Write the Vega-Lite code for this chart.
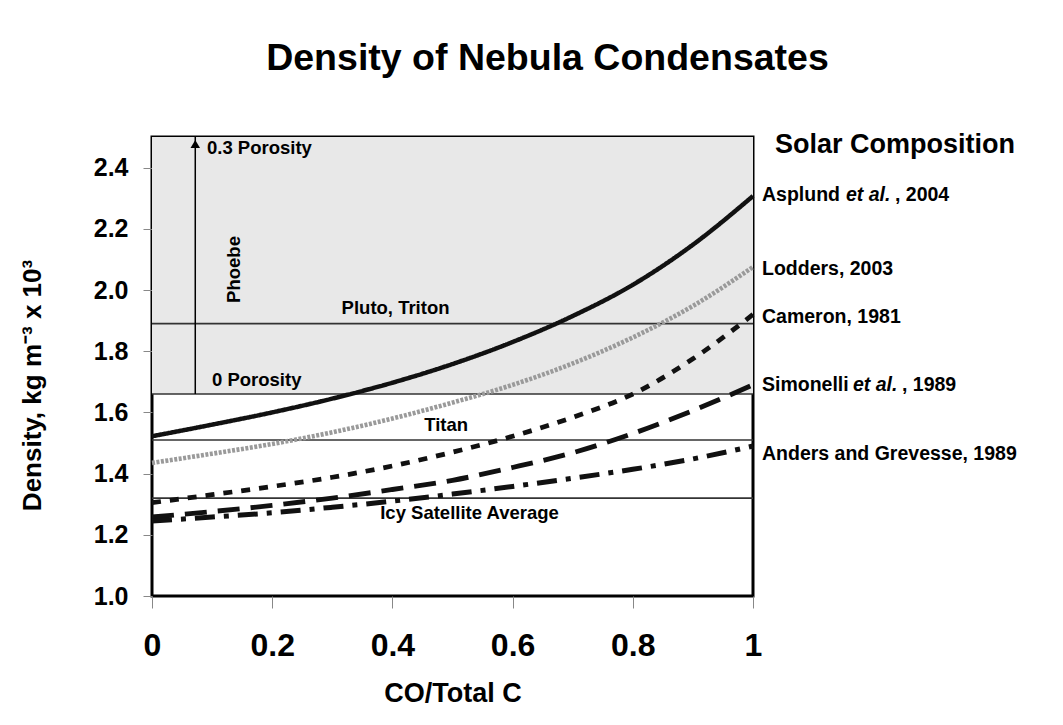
{
  "$schema": "https://vega.github.io/schema/vega-lite/v6.json",
  "width": 601,
  "height": 459,
  "autosize": {"type": "none"},
  "padding": {"left": 152, "top": 137, "right": 310, "bottom": 129},
  "background": "white",
  "config": {
    "font": "Liberation Sans",
    "view": {"stroke": "black", "strokeWidth": 3}
  },
  "title": {
    "text": "Density of Nebula Condensates",
    "fontSize": 37.5,
    "fontWeight": "bold",
    "font": "Liberation Sans",
    "color": "black",
    "anchor": "middle",
    "frame": "group",
    "dx": 95,
    "offset": 23,
    "baseline": "alphabetic"
  },
  "datasets": {
    "shade": [{"lo": 1.66, "hi": 2.5}],
    "refs": [
      {"name": "Pluto, Triton", "v": 1.89},
      {"name": "0 Porosity", "v": 1.66},
      {"name": "Titan", "v": 1.51},
      {"name": "Icy Satellite Average", "v": 1.32}
    ],
    "phoebe": [{"x": 0.072, "lo": 1.66, "hi": 2.5, "label": "Phoebe", "ly": 2.067, "lx": 0.147}],
    "annot": [
      {"text": "0.3 Porosity", "x": 0.0915, "y": 2.443},
      {"text": "0 Porosity", "x": 0.0998, "y": 1.687},
      {"text": "Pluto, Triton", "x": 0.3155, "y": 1.923},
      {"text": "Titan", "x": 0.4529, "y": 1.539},
      {"text": "Icy Satellite Average", "x": 0.3797, "y": 1.252}
    ],
    "curves": [
      {"series": "Asplund", "co": 0.0, "d": 1.522},
      {"series": "Asplund", "co": 0.1, "d": 1.56},
      {"series": "Asplund", "co": 0.2, "d": 1.60},
      {"series": "Asplund", "co": 0.3, "d": 1.645},
      {"series": "Asplund", "co": 0.4, "d": 1.697},
      {"series": "Asplund", "co": 0.5, "d": 1.758},
      {"series": "Asplund", "co": 0.6, "d": 1.83},
      {"series": "Asplund", "co": 0.7, "d": 1.915},
      {"series": "Asplund", "co": 0.8, "d": 2.017},
      {"series": "Asplund", "co": 0.9, "d": 2.148},
      {"series": "Asplund", "co": 1.0, "d": 2.307},
      {"series": "Lodders", "co": 0.0, "d": 1.435},
      {"series": "Lodders", "co": 0.1, "d": 1.465},
      {"series": "Lodders", "co": 0.2, "d": 1.497},
      {"series": "Lodders", "co": 0.3, "d": 1.535},
      {"series": "Lodders", "co": 0.4, "d": 1.58},
      {"series": "Lodders", "co": 0.5, "d": 1.632},
      {"series": "Lodders", "co": 0.6, "d": 1.69},
      {"series": "Lodders", "co": 0.7, "d": 1.76},
      {"series": "Lodders", "co": 0.8, "d": 1.845},
      {"series": "Lodders", "co": 0.9, "d": 1.948},
      {"series": "Lodders", "co": 1.0, "d": 2.075},
      {"series": "Cameron", "co": 0.0, "d": 1.305},
      {"series": "Cameron", "co": 0.1, "d": 1.331},
      {"series": "Cameron", "co": 0.2, "d": 1.358},
      {"series": "Cameron", "co": 0.3, "d": 1.388},
      {"series": "Cameron", "co": 0.4, "d": 1.425},
      {"series": "Cameron", "co": 0.5, "d": 1.47},
      {"series": "Cameron", "co": 0.6, "d": 1.522},
      {"series": "Cameron", "co": 0.7, "d": 1.584},
      {"series": "Cameron", "co": 0.8, "d": 1.66},
      {"series": "Cameron", "co": 0.9, "d": 1.775},
      {"series": "Cameron", "co": 1.0, "d": 1.92},
      {"series": "Simonelli", "co": 0.0, "d": 1.258},
      {"series": "Simonelli", "co": 0.1, "d": 1.276},
      {"series": "Simonelli", "co": 0.2, "d": 1.296},
      {"series": "Simonelli", "co": 0.3, "d": 1.32},
      {"series": "Simonelli", "co": 0.4, "d": 1.348},
      {"series": "Simonelli", "co": 0.5, "d": 1.378},
      {"series": "Simonelli", "co": 0.6, "d": 1.42},
      {"series": "Simonelli", "co": 0.7, "d": 1.468},
      {"series": "Simonelli", "co": 0.8, "d": 1.531},
      {"series": "Simonelli", "co": 0.9, "d": 1.606},
      {"series": "Simonelli", "co": 1.0, "d": 1.69},
      {"series": "Anders", "co": 0.0, "d": 1.245},
      {"series": "Anders", "co": 0.1, "d": 1.258},
      {"series": "Anders", "co": 0.2, "d": 1.272},
      {"series": "Anders", "co": 0.3, "d": 1.29},
      {"series": "Anders", "co": 0.4, "d": 1.31},
      {"series": "Anders", "co": 0.5, "d": 1.333},
      {"series": "Anders", "co": 0.6, "d": 1.358},
      {"series": "Anders", "co": 0.7, "d": 1.385},
      {"series": "Anders", "co": 0.8, "d": 1.414},
      {"series": "Anders", "co": 0.9, "d": 1.448},
      {"series": "Anders", "co": 1.0, "d": 1.49}
    ],
    "rightlabels": [
      {"main": "Asplund", "it": "et al.", "tail": ", 2004", "y": 2.292},
      {"main": "Lodders, 2003", "it": "", "tail": "", "y": 2.049},
      {"main": "Cameron, 1981", "it": "", "tail": "", "y": 1.893},
      {"main": "Simonelli", "it": "et al.", "tail": ", 1989", "y": 1.67},
      {"main": "Anders and Grevesse, 1989", "it": "", "tail": "", "y": 1.446}
    ],
    "header": [{"text": "Solar Composition", "y": 2.449}]
  },
  "layer": [
    {
      "data": {"name": "shade"},
      "mark": {"type": "rect", "color": "#e8e8e8"},
      "encoding": {
        "x": {"datum": 0, "type": "quantitative", "title": "CO/Total C",
          "scale": {"domain": [0, 1], "nice": false, "zero": false},
          "axis": {
            "values": [0, 0.2, 0.4, 0.6, 0.8, 1],
            "labelExpr": "datum.value == 0 ? '0' : datum.value == 1 ? '1' : format(datum.value, '.1f')",
            "labelFontSize": 32, "labelFontWeight": "bold", "labelColor": "black",
            "labelFlush": false, "labelOverlap": false,
            "tickColor": "#888", "tickSize": 12, "labelPadding": 47, "labelBaseline": "alphabetic",
            "domain": false, "grid": false,
            "title": "CO/Total C", "titleFontSize": 27, "titleFontWeight": "bold", "titleColor": "black",
            "titleY": 105, "titleBaseline": "alphabetic"
          }
        },
        "x2": {"datum": 1},
        "y": {"field": "lo", "type": "quantitative", "title": "Density, kg m⁻³ x 10³",
          "scale": {"domain": [1, 2.5], "nice": false, "zero": false},
          "axis": {
            "values": [1, 1.2, 1.4, 1.6, 1.8, 2.0, 2.2, 2.4],
            "format": ".1f",
            "labelFontSize": 25, "labelFontWeight": "bold", "labelColor": "black",
            "labelFlush": false, "labelOverlap": false,
            "tickColor": "#888", "tickSize": 9, "labelPadding": 15,
            "domain": false, "grid": false,
            "title": "Density, kg m⁻³ x 10³", "titleFontSize": 26, "titleFontWeight": "bold", "titleColor": "black",
            "titleAngle": 270, "titleX": -112, "titleY": 248, "titleAlign": "center", "titleBaseline": "alphabetic"
          }
        },
        "y2": {"field": "hi"}
      }
    },
    {
      "data": {"name": "refs"},
      "mark": {"type": "rule", "color": "#333", "strokeWidth": 1.6},
      "encoding": {
        "x": {"datum": 0, "type": "quantitative", "title": "CO/Total C"},
        "x2": {"datum": 1},
        "y": {"field": "v", "type": "quantitative", "title": "Density, kg m⁻³ x 10³"}
      }
    },
    {
      "data": {"name": "phoebe"},
      "mark": {"type": "rule", "color": "black", "strokeWidth": 1.5},
      "encoding": {
        "x": {"field": "x", "type": "quantitative", "title": "CO/Total C"},
        "y": {"field": "lo", "type": "quantitative", "title": "Density, kg m⁻³ x 10³"},
        "y2": {"field": "hi"}
      }
    },
    {
      "data": {"name": "phoebe"},
      "mark": {"type": "point", "shape": "triangle-up", "filled": true, "color": "black", "size": 90, "opacity": 1, "yOffset": 7},
      "encoding": {
        "x": {"field": "x", "type": "quantitative", "title": "CO/Total C"},
        "y": {"field": "hi", "type": "quantitative", "title": "Density, kg m⁻³ x 10³"}
      }
    },
    {
      "data": {"name": "phoebe"},
      "mark": {"type": "text", "angle": 270, "align": "center", "baseline": "alphabetic", "fontSize": 18.5, "fontWeight": "bold", "color": "black"},
      "encoding": {
        "x": {"field": "lx", "type": "quantitative", "title": "CO/Total C"},
        "y": {"field": "ly", "type": "quantitative", "title": "Density, kg m⁻³ x 10³"},
        "text": {"field": "label"}
      }
    },
    {
      "data": {"name": "curves"},
      "mark": {"type": "line", "interpolate": "monotone"},
      "encoding": {
        "x": {"field": "co", "type": "quantitative", "title": "CO/Total C"},
        "y": {"field": "d", "type": "quantitative", "title": "Density, kg m⁻³ x 10³"},
        "color": {"field": "series", "type": "nominal", "legend": null,
          "scale": {"domain": ["Asplund", "Lodders", "Cameron", "Simonelli", "Anders"], "range": ["#111", "#9a9a9a", "#111", "#111", "#111"]}},
        "strokeDash": {"field": "series", "type": "nominal", "legend": null,
          "scale": {"domain": ["Asplund", "Lodders", "Cameron", "Simonelli", "Anders"], "range": [[1, 0], [3, 1.5], [9, 9], [22, 11], [20, 9, 5, 9]]}},
        "strokeWidth": {"field": "series", "type": "ordinal", "legend": null,
          "scale": {"domain": ["Asplund", "Lodders", "Cameron", "Simonelli", "Anders"], "range": [4.5, 5, 3.5, 3, 3]}}
      }
    },
    {
      "data": {"name": "annot"},
      "mark": {"type": "text", "align": "left", "baseline": "alphabetic", "fontSize": 18.5, "fontWeight": "bold", "color": "black"},
      "encoding": {
        "x": {"field": "x", "type": "quantitative", "title": "CO/Total C"},
        "y": {"field": "y", "type": "quantitative", "title": "Density, kg m⁻³ x 10³"},
        "text": {"field": "text"}
      }
    },
    {
      "data": {"name": "rightlabels"},
      "mark": {"type": "text", "align": "left", "baseline": "alphabetic", "fontSize": 19.5, "fontWeight": "bold", "color": "black", "dx": 9},
      "encoding": {
        "x": {"datum": 1, "type": "quantitative", "title": "CO/Total C"},
        "y": {"field": "y", "type": "quantitative", "title": "Density, kg m⁻³ x 10³"},
        "text": {"field": "main"}
      }
    },
    {
      "data": {"name": "rightlabels"},
      "transform": [{"filter": "datum.main == 'Asplund'"}],
      "mark": {"type": "text", "align": "left", "baseline": "alphabetic", "fontSize": 19.5, "fontWeight": "bold", "fontStyle": "italic", "color": "black", "dx": 93},
      "encoding": {
        "x": {"datum": 1, "type": "quantitative", "title": "CO/Total C"},
        "y": {"field": "y", "type": "quantitative", "title": "Density, kg m⁻³ x 10³"},
        "text": {"field": "it"}
      }
    },
    {
      "data": {"name": "rightlabels"},
      "transform": [{"filter": "datum.main == 'Asplund'"}],
      "mark": {"type": "text", "align": "left", "baseline": "alphabetic", "fontSize": 19.5, "fontWeight": "bold", "color": "black", "dx": 142},
      "encoding": {
        "x": {"datum": 1, "type": "quantitative", "title": "CO/Total C"},
        "y": {"field": "y", "type": "quantitative", "title": "Density, kg m⁻³ x 10³"},
        "text": {"field": "tail"}
      }
    },
    {
      "data": {"name": "rightlabels"},
      "transform": [{"filter": "datum.main == 'Simonelli'"}],
      "mark": {"type": "text", "align": "left", "baseline": "alphabetic", "fontSize": 19.5, "fontWeight": "bold", "fontStyle": "italic", "color": "black", "dx": 100},
      "encoding": {
        "x": {"datum": 1, "type": "quantitative", "title": "CO/Total C"},
        "y": {"field": "y", "type": "quantitative", "title": "Density, kg m⁻³ x 10³"},
        "text": {"field": "it"}
      }
    },
    {
      "data": {"name": "rightlabels"},
      "transform": [{"filter": "datum.main == 'Simonelli'"}],
      "mark": {"type": "text", "align": "left", "baseline": "alphabetic", "fontSize": 19.5, "fontWeight": "bold", "color": "black", "dx": 149},
      "encoding": {
        "x": {"datum": 1, "type": "quantitative", "title": "CO/Total C"},
        "y": {"field": "y", "type": "quantitative", "title": "Density, kg m⁻³ x 10³"},
        "text": {"field": "tail"}
      }
    },
    {
      "data": {"name": "header"},
      "mark": {"type": "text", "align": "left", "baseline": "alphabetic", "fontSize": 27, "fontWeight": "bold", "color": "black", "dx": 22},
      "encoding": {
        "x": {"datum": 1, "type": "quantitative", "title": "CO/Total C"},
        "y": {"field": "y", "type": "quantitative", "title": "Density, kg m⁻³ x 10³"},
        "text": {"field": "text"}
      }
    }
  ]
}
